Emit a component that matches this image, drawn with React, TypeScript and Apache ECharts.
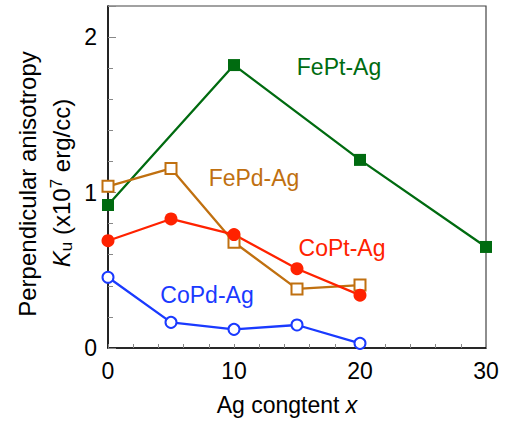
import React, { useEffect, useRef } from "react";
import * as echarts from "echarts";

const xValues = [0, 5, 10, 15, 20];
const fePtX = [0, 10, 20, 30];
const fePtY = [0.92, 1.82, 1.21, 0.65];
const fePdY = [1.04, 1.155, 0.68, 0.38, 0.405];
const coPtY = [0.69, 0.83, 0.73, 0.51, 0.34];
const coPdY = [0.455, 0.165, 0.12, 0.148, 0.03];
const xTicks = [0, 10, 20, 30];
const yTicks = [0, 1, 2];

const FONT = "'Liberation Sans', Arial, sans-serif";
const GREEN = "#006b10";
const BROWN = "#c07010";
const RED = "#ff2200";
const BLUE = "#1a3aff";

export default function App() {
  const ref = useRef<HTMLDivElement>(null);
  useEffect(() => {
    if (!ref.current) return;
    const chart = echarts.init(ref.current, null, { renderer: "svg" });
    const pair = (xs: number[], ys: number[]) => xs.map((x, i) => [x, ys[i]]);
    const lineSeries = (
      name: string,
      data: number[][],
      color: string,
      symbol: string,
      size: number,
      bw: number
    ) => ({
      name,
      type: "line",
      data,
      symbol,
      symbolSize: size,
      showAllSymbol: true,
      lineStyle: { color, width: 2.3 },
      itemStyle: { color, borderWidth: bw },
      z: 3,
    });
    const label = (text: string, x: number, y: number, color: string) => ({
      type: "text",
      x,
      y,
      style: {
        text,
        fill: color,
        font: `23px ${FONT}`,
        textAlign: "center",
        textVerticalAlign: "middle",
      },
      z: 10,
    });
    chart.setOption({
      animation: false,
      grid: {
        left: 108,
        right: 19,
        top: 6,
        bottom: 73,
        show: true,
        borderColor: "#444",
        borderWidth: 1.2,
        backgroundColor: "transparent",
      },
      xAxis: {
        type: "value",
        min: xTicks[0],
        max: xTicks[xTicks.length - 1],
        interval: 10,
        axisLine: { show: true, onZero: false, lineStyle: { color: "#000", width: 1.5 } },
        axisTick: { show: true, inside: true, length: 4, lineStyle: { color: "#888" } },
        minorTick: { show: true, splitNumber: 5, length: 4, lineStyle: { color: "#888" } },
        splitLine: { show: false },
        axisLabel: {
          margin: 11,
          fontSize: 23,
          fontFamily: FONT,
          color: "#000",
          formatter: (v: number) => (xTicks.includes(v) ? String(v) : ""),
        },
      },
      yAxis: {
        type: "value",
        min: 0,
        max: 2.2,
        interval: 1,
        axisLine: { show: true, onZero: false, lineStyle: { color: "#000", width: 1.5 } },
        axisTick: { show: true, inside: true, length: 8, lineStyle: { color: "#888" } },
        minorTick: { show: true, splitNumber: 5, length: 5, lineStyle: { color: "#888" } },
        splitLine: { show: false },
        axisLabel: {
          margin: 11,
          fontSize: 23,
          fontFamily: FONT,
          color: "#000",
          showMaxLabel: false,
          formatter: (v: number) => (yTicks.includes(v) ? String(v) : ""),
        },
      },
      series: [
        lineSeries("FePt-Ag", pair(fePtX, fePtY), GREEN, "rect", 12, 0),
        lineSeries("FePd-Ag", pair(xValues, fePdY), BROWN, "emptyRect", 11, 1.3),
        lineSeries("CoPt-Ag", pair(xValues, coPtY), RED, "circle", 13, 0),
        lineSeries("CoPd-Ag", pair(xValues, coPdY), BLUE, "emptyCircle", 11, 1.3),
      ],
      graphic: [
        label("FePt-Ag", 339, 67, GREEN),
        label("FePd-Ag", 254, 178, BROWN),
        label("CoPt-Ag", 342, 248, RED),
        label("CoPd-Ag", 207, 295, BLUE),
        {
          type: "text",
          x: 287,
          y: 405,
          style: {
            text: "Ag congtent {i|x}",
            font: `23px ${FONT}`,
            fill: "#000",
            textAlign: "center",
            textVerticalAlign: "middle",
            rich: {
              i: { fontStyle: "italic", fontSize: 23, fontFamily: FONT, fill: "#000" },
            },
          },
        },
        {
          type: "text",
          x: 27,
          y: 184,
          rotation: Math.PI / 2,
          style: {
            text: "Perpendicular anisotropy",
            font: `24px ${FONT}`,
            fill: "#000",
            textAlign: "center",
            textVerticalAlign: "middle",
          },
        },
        {
          type: "text",
          x: 61,
          y: 183,
          rotation: Math.PI / 2,
          style: {
            text: "{i|K}{sub|u} (x10{sup|7} erg/cc)",
            font: `24px ${FONT}`,
            fill: "#000",
            textAlign: "center",
            textVerticalAlign: "middle",
            rich: {
              i: { fontStyle: "italic", fontSize: 24, fontFamily: FONT, fill: "#000" },
              sub: { fontSize: 17, fontFamily: FONT, fill: "#000", verticalAlign: "bottom", padding: [10, 0, 0, 0] },
              sup: { fontSize: 17, fontFamily: FONT, fill: "#000", verticalAlign: "top", padding: [0, 0, 10, 0] },
            },
          },
        },
      ],
    });
    return () => chart.dispose();
  }, []);
  return <div ref={ref} style={{ width: 505, height: 421, position: "absolute", left: 0, top: 0 }} />;
}
